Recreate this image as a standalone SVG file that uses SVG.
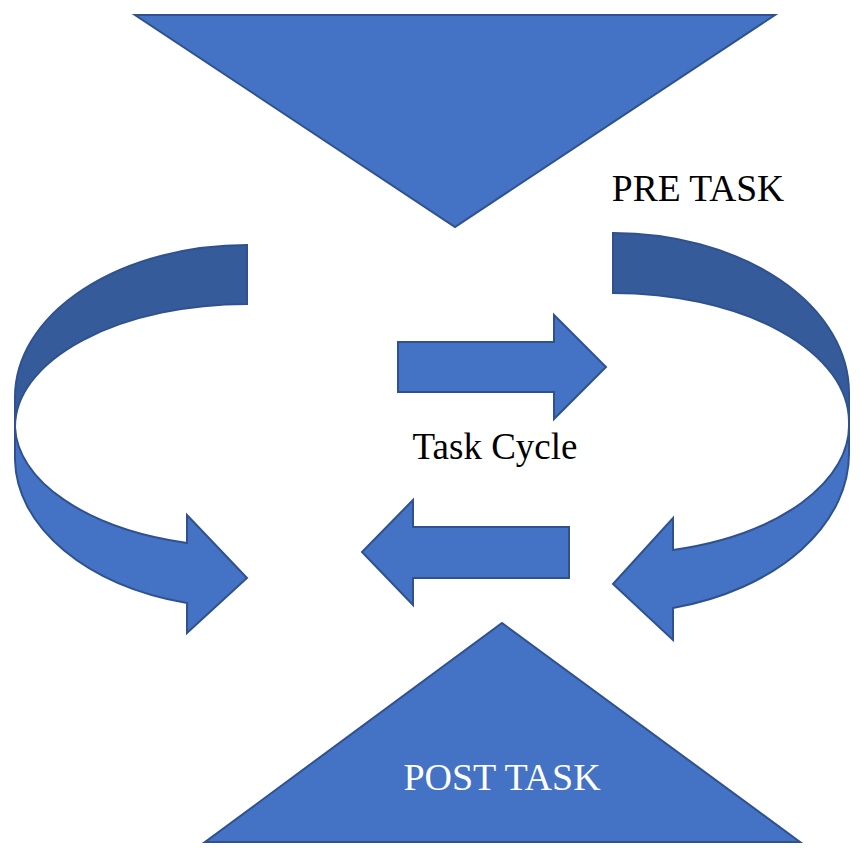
<svg xmlns="http://www.w3.org/2000/svg" width="860" height="855" viewBox="0 0 860 855">
<style>
.s{fill:#4472C4;stroke:#2F528F;stroke-width:2;stroke-linejoin:miter}
.d{fill:#365B9B;stroke:#2F528F;stroke-width:2}
.t{font-family:"Liberation Serif","Times New Roman",serif;font-size:37.5px}
</style>
<rect width="860" height="855" fill="#fff"/>
<g id="top-triangle"><polygon class="s" points="135,15 775,15 455,227"/></g>
<g id="post-task">
<polygon class="s" points="205,842 800,842 502,623"/>
<text class="t" x="502" y="790" text-anchor="middle" fill="#fff" style="font-size:38px">POST TASK</text>
</g>
<g id="pre-task"><text class="t" x="698" y="201" text-anchor="middle" fill="#000">PRE TASK</text></g>
<g id="task-cycle"><text class="t" x="495" y="459" text-anchor="middle" fill="#000" style="font-size:37px">Task Cycle</text></g>
<g id="connectors">
<g id="left-curved-arrow">
<path class="d" d="M247,245 A232,152 0 0 0 15,397 L15,427 A232,123 0 0 1 247,304 Z"/>
<path class="s" d="M15,427 L15,460 A232,150 0 0 0 187,603 L187,633 L247,578 L187,515 L187,543 A232,123 0 0 1 15,427 Z"/>
</g>
<g id="right-curved-arrow">
<path class="d" d="M613,233 A236,160 0 0 1 849,393 L849,422 A236,129 0 0 0 613,293 Z"/>
<path class="s" d="M849,422 L849,450 A236,160 0 0 1 673,608 L673,640 L613,584 L673,518 L673,550 A236,129 0 0 0 849,422 Z"/>
</g>
<g id="right-arrow"><polygon class="s" points="398,342 554,342 554,315 606,367 554,419 554,392 398,392"/></g>
<g id="left-arrow"><polygon class="s" points="569,527 413,527 413,500 362,552 413,605 413,578 569,578"/></g>
</g>
</svg>
